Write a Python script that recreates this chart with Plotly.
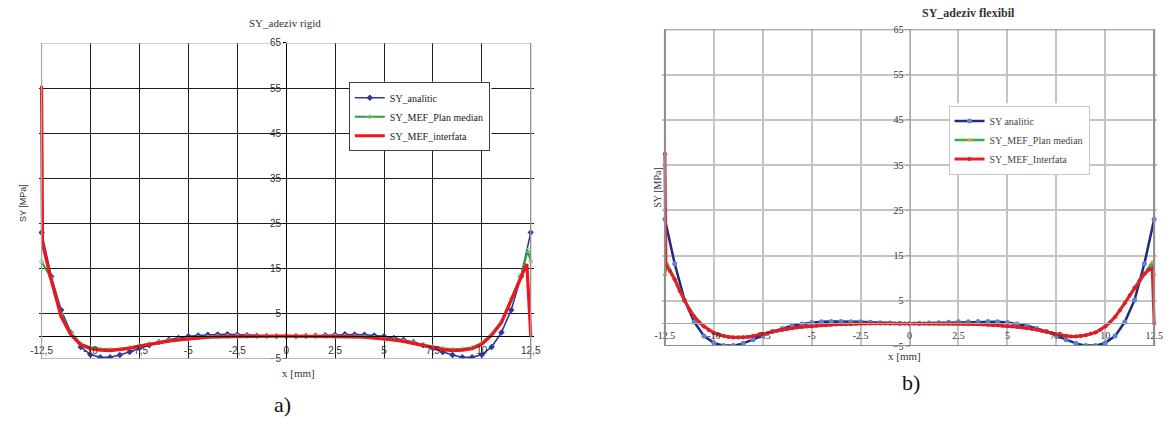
import numpy as np
import plotly.graph_objects as go

# ---------------- data ----------------
X_TICKS = [-12.5, -10, -7.5, -5, -2.5, 0, 2.5, 5, 7.5, 10, 12.5]
X_TICK_TEXT_A = ["-12,5", "-10", "-7,5", "-5", "-2,5", "0", "2,5", "5", "7,5", "10", "12,5"]
X_TICK_TEXT_B = ["-12.5", "-10", "-7.5", "-5", "-2.5", "0", "2.5", "5", "7.5", "10", "12.5"]
Y_TICKS = [-5, 5, 15, 25, 35, 45, 55, 65]

X_HALF = [round(v, 2) for v in np.linspace(-12.5, 12.5, 51)]      # 0.5 mm grid
X_QUARTER = [round(v, 2) for v in np.linspace(-12.5, 12.5, 101)]  # 0.25 mm grid

# a) rigid adhesive
A_ANALYTIC = [23.0, 13.2, 5.8, 0.8, -2.4, -4.1, -4.7, -4.7, -4.2, -3.5, -2.7, -2.0, -1.3,
              -0.8, -0.4, -0.05, 0.15, 0.3, 0.35, 0.4, 0.3, 0.2, 0.1, 0.05, 0.0,
              0.0,
              0.0, 0.05, 0.1, 0.2, 0.3, 0.4, 0.35, 0.3, 0.15, -0.05, -0.4, -0.8, -1.3,
              -2.0, -2.7, -3.5, -4.2, -4.7, -4.7, -4.1, -2.4, 0.8, 5.8, 13.2, 23.0]

A_MEDIAN_X = [-12.5] + X_HALF[1:-1] + [12.35, 12.5]
A_MEDIAN = [16.5,
            12.8, 4.9, 0.7, -1.6, -2.5, -2.8, -2.9, -2.8, -2.5, -2.1, -1.7, -1.3, -1.0,
            -0.8, -0.55, -0.35, -0.2, -0.1, -0.05, 0.0,
            0.0, 0.0, 0.0, 0.0, 0.0, 0.0, 0.0, 0.0, 0.0,
            0.0, -0.05, -0.1, -0.2, -0.35, -0.55, -0.8, -1.05, -1.45, -1.85, -2.35,
            -2.7, -2.9, -2.8, -2.5, -1.5, 0.5, 3.3, 8.3, 13.5,
            19.0, 16.5]

A_INTERF_X = [-12.5, -12.45] + X_HALF[1:-1] + [12.3, 12.5]
A_INTERF = [55.5, 20.5,
            12.3, 4.3, 0.3, -1.9, -2.8, -3.1, -3.2, -3.0, -2.7, -2.2, -1.8, -1.4, -1.1,
            -0.85, -0.6, -0.4, -0.25, -0.15, -0.1, -0.05,
            0.0, 0.0, 0.0, 0.0, 0.0, 0.0, 0.0, 0.0, 0.0,
            -0.05, -0.1, -0.15, -0.25, -0.4, -0.6, -0.85, -1.15, -1.6, -2.0, -2.6,
            -3.0, -3.2, -3.1, -2.8, -1.8, 0.2, 3.0, 8.0, 13.0,
            16.0, 0.0]

# b) flexible adhesive
B_ANALYTIC = [23.0, 13.2, 5.2, 0.3, -2.8, -4.3, -4.9, -4.9, -4.4, -3.6, -2.7, -1.8, -1.1,
              -0.5, -0.1, 0.2, 0.4, 0.45, 0.45, 0.4, 0.35, 0.25, 0.15, 0.1, 0.05,
              0.0,
              0.05, 0.1, 0.15, 0.25, 0.35, 0.4, 0.45, 0.45, 0.4, 0.2, -0.1, -0.5, -1.1,
              -1.8, -2.7, -3.6, -4.4, -4.9, -4.9, -4.3, -2.8, 0.3, 5.2, 13.2, 23.0]

B_MEDIAN_X = [-12.5, -12.4] + X_HALF[1:-1] + [12.4, 12.5]
B_MEDIAN = [10.8, 13.3,
            9.9, 5.1, 1.6, -0.6, -2.0, -2.7, -3.0, -3.0, -2.7, -2.3, -1.8, -1.4, -1.05,
            -0.8, -0.6, -0.4, -0.3, -0.2, -0.1, 0.0,
            0.0, 0.0, 0.0, 0.0, 0.0, 0.0, 0.0, 0.0, 0.0,
            0.0, -0.1, -0.2, -0.3, -0.4, -0.6, -0.8, -1.05, -1.4, -1.8, -2.4,
            -2.8, -2.85, -2.6, -1.95, -0.6, 1.5, 4.6, 8.0, 11.0,
            13.5, 10.8]

B_INTERF_X = [-12.5, -12.45] + X_QUARTER[1:-1] + [12.4, 12.5]
B_INTERF = [37.5, 12.8,
            11.6, 9.7, 7.2, 5.0, 3.1, 1.5, 0.2, -0.7, -1.5, -2.1,
            -2.5, -2.8, -3.0, -3.1, -3.1, -3.1, -3.0, -2.8, -2.6, -2.4,
            -2.1, -1.8, -1.6, -1.4, -1.2, -1.05, -0.9, -0.8, -0.7, -0.6,
            -0.5, -0.4, -0.35, -0.3, -0.25, -0.2, -0.15, -0.1, -0.05, 0.0,
            0.0, 0.0, 0.0, 0.0, 0.0, 0.0, 0.0, 0.0, 0.0, 0.0,
            0.0, 0.0, 0.0, 0.0, 0.0, 0.0, 0.0, 0.0, 0.0,
            0.0, -0.05, -0.1, -0.15, -0.2, -0.25, -0.3, -0.35, -0.4, -0.5,
            -0.6, -0.7, -0.8, -0.9, -1.05, -1.2, -1.4, -1.6, -1.8, -2.1,
            -2.4, -2.6, -2.8, -2.9, -2.9, -2.8, -2.6, -2.3, -2.0, -1.4,
            -0.7, 0.2, 1.4, 2.9, 4.5, 6.2, 7.9, 9.5, 10.9, 11.9,
            12.2, 0.0]

# ---------------- figure ----------------
W, H = 1172, 423
SERIF = "Liberation Serif"
SANS = "Liberation Sans"
XPAD = 0.14  # mm of extra range so the end spikes are not clipped


def px(x):
    return x / W


def py(y):
    return 1 - y / H


def dom_x(left, right):
    ppm = (right - left) / 25.0
    return [px(left - XPAD * ppm), px(right + XPAD * ppm)]


A_DOM_X = dom_x(33, 529)
A_DOM_Y = [py(363), py(38)]
B_DOM_X = dom_x(665, 1161)
B_DOM_Y = [py(350), py(24)]

fig = go.Figure()

# a) traces
fig.add_trace(go.Scatter(x=X_HALF, y=A_ANALYTIC, name="SY_analitic", mode="lines+markers",
                         line=dict(color="#2E3A9A", width=1.6),
                         marker=dict(symbol="diamond", size=5, color="#2E3A9A"),
                         xaxis="x", yaxis="y", legend="legend"))
fig.add_trace(go.Scatter(x=A_MEDIAN_X, y=A_MEDIAN, name="SY_MEF_Plan median", mode="lines+markers",
                         line=dict(color="#2E9A3E", width=2),
                         marker=dict(symbol="circle-open", size=4, color="#9AD89A"),
                         xaxis="x", yaxis="y", legend="legend"))
fig.add_trace(go.Scatter(x=A_INTERF_X, y=A_INTERF, name="SY_MEF_interfata", mode="lines",
                         line=dict(color="#F0141E", width=3.2),
                         xaxis="x", yaxis="y", legend="legend"))

# b) traces
fig.add_trace(go.Scatter(x=X_HALF, y=B_ANALYTIC, name="SY analitic", mode="lines+markers",
                         line=dict(color="#1F2A80", width=2.5),
                         marker=dict(symbol="circle", size=5, color="#5B84D6"),
                         xaxis="x2", yaxis="y2", legend="legend2"))
fig.add_trace(go.Scatter(x=B_MEDIAN_X, y=B_MEDIAN, name="SY_MEF_Plan median", mode="lines+markers",
                         line=dict(color="#3DAA4A", width=2.5),
                         marker=dict(symbol="triangle-up", size=5, color="#F39A2C"),
                         xaxis="x2", yaxis="y2", legend="legend2"))
fig.add_trace(go.Scatter(x=B_INTERF_X, y=B_INTERF, name="SY_MEF_Interfata", mode="lines+markers",
                         line=dict(color="#E8202A", width=3),
                         marker=dict(symbol="circle", size=4, color="#D91E28"),
                         xaxis="x2", yaxis="y2", legend="legend2"))


def axis_pair(dx, dy, ticktext, grid, gridw, axcolor, tickfont, standoff):
    xpos = dy[0] + (5 / 70) * (dy[1] - dy[0])
    ypos = (dx[0] + dx[1]) / 2
    xa = dict(domain=dx, range=[-12.5 - XPAD, 12.5 + XPAD], tickvals=X_TICKS, ticktext=ticktext,
              showgrid=True, gridcolor=grid, gridwidth=gridw, zeroline=False,
              anchor="free", position=xpos, showline=True, linecolor=axcolor, linewidth=1,
              ticks="", tickfont=tickfont, fixedrange=True, ticklabelstandoff=standoff)
    ya = dict(domain=dy, range=[-5, 65], tickvals=Y_TICKS,
              showgrid=True, gridcolor=grid, gridwidth=gridw, zeroline=False,
              anchor="free", position=ypos, showline=True, linecolor=axcolor, linewidth=1,
              ticks="outside", ticklen=3, tickcolor=axcolor, tickfont=tickfont, fixedrange=True)
    return xa, ya


xa1, ya1 = axis_pair(A_DOM_X, A_DOM_Y, X_TICK_TEXT_A, "#1E1E1E", 1, "#000000",
                     dict(family=SANS, size=10, color="#333333"), 5)
xa2, ya2 = axis_pair(B_DOM_X, B_DOM_Y, X_TICK_TEXT_B, "#C4C4C4", 1.5, "#A8A8A8",
                     dict(family=SERIF, size=10, color="#333333"), 3)
ya2["ticklen"] = 4

shapes = [
    # plot-area borders
    dict(type="rect", xref="x", yref="y", x0=-12.5, x1=12.5, y0=-5, y1=65,
         line=dict(color="#A6A6A6", width=1.2), layer="above"),
    dict(type="rect", xref="x2", yref="y2", x0=-12.5, x1=12.5, y0=-5, y1=65,
         line=dict(color="#8E8E8E", width=2), layer="above"),
    # white areas behind the legends
    dict(type="rect", xref="paper", yref="paper", x0=px(346), x1=px(489), y0=py(147), y1=py(78),
         fillcolor="white", line=dict(width=0), layer="above"),
    dict(type="rect", xref="paper", yref="paper", x0=px(957), x1=px(1094), y0=py(172), y1=py(100),
         fillcolor="white", line=dict(width=0), layer="above"),
]


def note(text, x, y, size, family=SERIF, color="#333333", angle=0):
    return dict(text=text, x=px(x), y=py(y), xref="paper", yref="paper",
                xanchor="center", yanchor="middle", textangle=angle, showarrow=False,
                font=dict(family=family, size=size, color=color))


annotations = [
    note("SY_adeziv rigid", 280, 18, 11),
    note("<b>SY_adeziv flexibil</b>", 973, 7, 12),
    note("SY [MPa]", 14, 203, 9, family=SANS, angle=-90),
    note("SY [MPa]", 658, 187, 10, angle=-90),
    note("x [mm]", 293, 378, 11),
    note("x [mm]", 908, 360, 11),
    note("a)", 277, 410, 22, color="#111111"),
    note("b)", 914, 387, 22, color="#111111"),
]

fig.update_layout(
    width=W, height=H, margin=dict(l=0, r=0, t=0, b=0),
    paper_bgcolor="white", plot_bgcolor="white",
    xaxis=xa1, yaxis=ya1, xaxis2=xa2, yaxis2=ya2,
    shapes=shapes, annotations=annotations,
    legend=dict(x=px(416), y=py(114), xanchor="center", yanchor="middle", bgcolor="white",
                bordercolor="#404040", borderwidth=1, itemwidth=30, tracegroupgap=0,
                font=dict(family=SERIF, size=10, color="#222222")),
    legend2=dict(x=px(1024), y=py(138), xanchor="center", yanchor="middle", bgcolor="white",
                 bordercolor="#C8C8C8", borderwidth=1, itemwidth=30, tracegroupgap=0,
                 font=dict(family=SERIF, size=10, color="#444444")),
    showlegend=True,
)

fig.write_html("out.html", config={"displayModeBar": False},
               post_script="document.body.style.margin='0';document.body.style.overflow='hidden';")
